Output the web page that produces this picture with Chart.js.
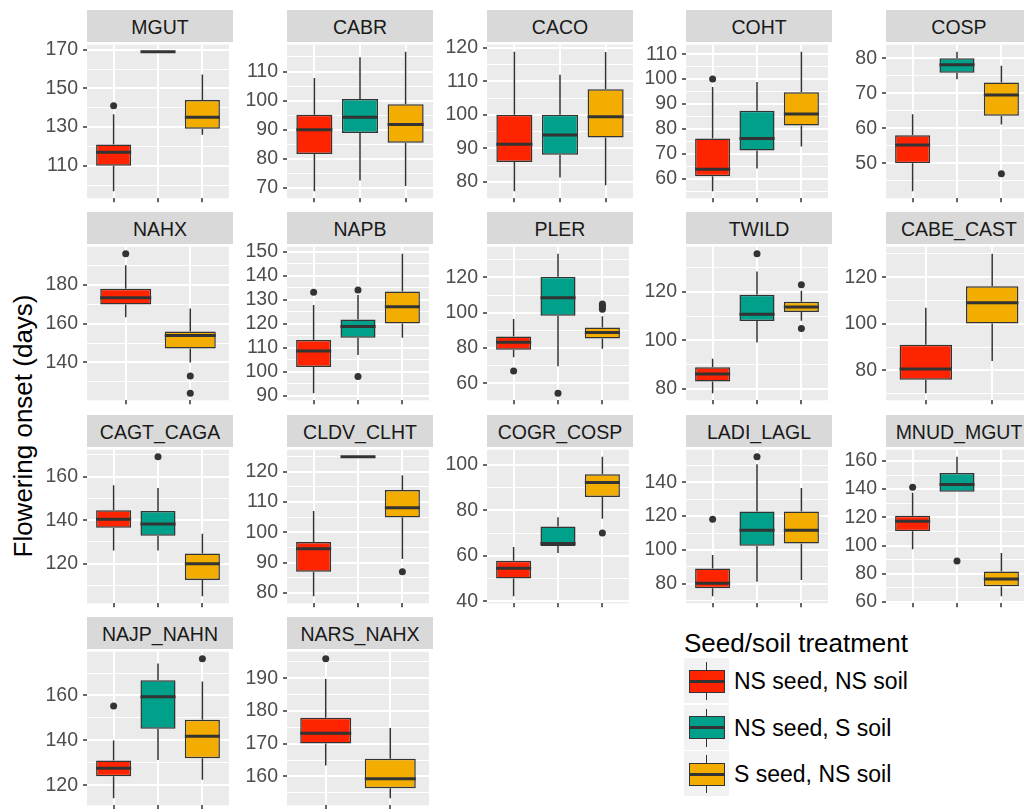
<!DOCTYPE html>
<html>
<head>
<meta charset="utf-8">
<script src="https://cdn.jsdelivr.net/npm/chart.js@4.4.1/dist/chart.umd.min.js"></script>
<style>
  body { margin: 0; background: #fff; width: 1024px; height: 809px; overflow: hidden; position: relative;
         font-family: 'Liberation Sans', Arial, sans-serif; }
  canvas { position: absolute; }
  .strip { position: absolute; background: #D9D9D9; color: #1A1A1A; font-size: 19.5px; text-align: center;
           height: 32px; line-height: 34px; white-space: nowrap; overflow: hidden; }
  .ytitle { position: absolute; left: 23px; top: 426px; font-size: 26px; color: #000; white-space: nowrap;
            transform: translate(-50%, -50%) rotate(-90deg); }
  .legend-title { position: absolute; left: 684px; top: 630px; font-size: 26px; line-height: 1; color: #000; }
  .key { position: absolute; left: 684px; width: 45px; height: 45px; background: #F2F2F2; }
  .key .whisker { position: absolute; left: 21.75px; top: 4px; width: 1.5px; height: 38px; background: #333; }
  .key .box { position: absolute; left: 4.5px; top: 11.5px; width: 36px; height: 23px; box-sizing: border-box;
              border: 1.5px solid #333; }
  .key .median { position: absolute; left: 4.5px; top: 21.5px; width: 36px; height: 3px; background: #333; }
  .legend-label { position: absolute; left: 734px; font-size: 23px; line-height: 1; color: #000; white-space: nowrap; }
</style>
</head>
<body>
<div class="ytitle">Flowering onset (days)</div>
<script>
const facetNames = ['MGUT', 'CABR', 'CACO', 'COHT', 'COSP',
  'NAHX', 'NAPB', 'PLER', 'TWILD', 'CABE_CAST',
  'CAGT_CAGA', 'CLDV_CLHT', 'COGR_COSP', 'LADI_LAGL', 'MNUD_MGUT',
  'NAJP_NAHN', 'NARS_NAHX'];
const treatments = ['NS seed, NS soil', 'NS seed, S soil', 'S seed, NS soil'];
const treatmentColors = ['#FF2400', '#00A08A', '#F2AD00'];

// which treatments are present in each facet
const facetGroups = [
  [0, 1, 2], [0, 1, 2], [0, 1, 2], [0, 1, 2], [0, 1, 2],
  [0, 2], [0, 1, 2], [0, 1, 2], [0, 1, 2], [0, 2],
  [0, 1, 2], [0, 1, 2], [0, 1, 2], [0, 1, 2], [0, 1, 2],
  [0, 1, 2], [0, 2]
];

const whiskerLow = [
  [96.8, 169, 126.1], [68.9, 72.6, 70.7], [77.2, 81.3, 79], [55, 64.2, 73], [42, 74, 61.1],
  [163.3, 140], [91, 107, 114.2], [74.8, 69.6, 79.6], [78.1, 99.1, 108.1], [70.1, 84],
  [126.1, 126.1, 105.1], [78.9, 125, 91.2], [42.2, 61.3, 76.3], [72.7, 81.3, 82.3], [97.4, 138.2, 64],
  [114.2, 131.3, 122.5], [163.3, 153.3]
];
const boxLow = [
  [110, 169, 129.2], [81.7, 88.9, 85.6], [85.9, 88.1, 93.2], [61, 71.4, 81.4], [50, 75.9, 63.6],
  [169.8, 147.2], [102, 114.2, 120.2], [79, 98.3, 85.4], [83, 108, 111.7], [75.9, 100.1],
  [136.5, 132.9, 112.6], [87, 125, 104.9], [50, 64.3, 85.9], [77.5, 102.5, 103.8], [110.2, 138.2, 71.2],
  [124, 145.2, 132], [170.1, 156.4]
];
const medians = [
  [117, 169, 135.1], [90, 94.3, 91.8], [91.2, 94, 99.4], [63.9, 76.2, 86], [55.2, 78.2, 69.5],
  [173.3, 153.9], [108.7, 118.9, 127.1], [83.2, 108.5, 88.8], [86.1, 110.8, 113.8], [80.6, 109],
  [140.4, 138.2, 120], [94.6, 125, 108.1], [54.5, 65.4, 92.2], [80.4, 111.7, 111.7], [117.2, 143.2, 76.3],
  [127.6, 159.4, 141.9], [173.2, 159.3]
];
const boxHigh = [
  [121, 169, 144], [95.2, 100.6, 98.8], [100, 100, 107.6], [76.2, 87.3, 94.7], [58, 80, 73.1],
  [178, 155.9], [113.3, 121.8, 133.5], [86.5, 120.4, 91.6], [88.9, 118.8, 115.9], [91, 116.1],
  [144.6, 144.2, 124.7], [96.8, 125, 114], [57.8, 72.9, 95.9], [89.1, 122.7, 122.7], [121.2, 151.4, 81.6],
  [131, 166.8, 149.2], [177.9, 165.4]
];
const whiskerHigh = [
  [136.6, 169, 157.2], [107.8, 114.9, 116.8], [118.8, 111.9, 118.7], [96.8, 98.8, 111], [64, 81.9, 77.9],
  [190.1, 167.8], [127.9, 132, 149.3], [96.4, 133.5, 98], [92.4, 128.4, 120.5], [106.9, 130.1],
  [156, 154.8, 133.8], [107.1, 125, 118.9], [63.9, 77, 103.6], [97.1, 150.6, 136.5], [137.4, 163, 94.8],
  [140, 174.2, 166.2], [189.8, 174.8]
];
const outliers = [
  [[141], [], []], [[], [], []], [[], [], []], [[100], [], []], [[], [], [47]],
  [[196], [133, 124.1]], [[133.2], [134.1, 98], []], [[67], [54.3], [102, 103, 104, 105]], [[], [135.8], [123, 104.9]], [[], []],
  [[], [169.1], []], [[], [], [87]], [[], [], [70]], [[118.1], [155], []], [[141.3], [89], []],
  [[155.3], [], [176.4]], [[196], []]
];
const yTicks = [
  [110, 130, 150, 170], [70, 80, 90, 100, 110], [80, 90, 100, 110, 120], [60, 70, 80, 90, 100, 110], [40, 50, 60, 70, 80],
  [140, 160, 180], [90, 100, 110, 120, 130, 140, 150], [60, 80, 100, 120], [80, 100, 120], [80, 100, 120],
  [120, 140, 160], [80, 90, 100, 110, 120], [40, 60, 80, 100], [80, 100, 120, 140], [60, 80, 100, 120, 140, 160],
  [120, 140, 160], [160, 170, 180, 190]
];

// panel layout
const colLeft = [87, 287, 487, 686, 886];
const rowTop = [42, 244, 447, 649];
const panelW = 146, panelH = 157;
const axisW = 50, padTop = 14, axisH = 8, padBottom = 8;

Chart.defaults.font.family = "'Liberation Sans', Arial, sans-serif";

// panel background, whiskers and medians
const boxplotParts = {
  id: 'boxplotParts',
  beforeDraw(chart) {
    const { ctx, chartArea: a } = chart;
    ctx.save();
    ctx.fillStyle = '#EBEBEB';
    ctx.fillRect(a.left, a.top, a.right - a.left, a.bottom - a.top);
    ctx.restore();
  },
  beforeDatasetsDraw(chart) {
    const ds = chart.data.datasets[0];
    const xs = chart.scales.x, ys = chart.scales.y;
    const ctx = chart.ctx;
    ctx.save();
    ctx.strokeStyle = '#333333';
    ctx.lineWidth = 1.5;
    ds.data.forEach((d, j) => {
      const x = xs.getPixelForValue(d.x);
      ctx.beginPath();
      ctx.moveTo(x, ys.getPixelForValue(ds.whiskerLow[j]));
      ctx.lineTo(x, ys.getPixelForValue(d.y[0]));
      ctx.moveTo(x, ys.getPixelForValue(d.y[1]));
      ctx.lineTo(x, ys.getPixelForValue(ds.whiskerHigh[j]));
      ctx.stroke();
    });
    ctx.restore();
  },
  afterDatasetsDraw(chart) {
    const ds = chart.data.datasets[0];
    const meta = chart.getDatasetMeta(0);
    const ys = chart.scales.y;
    const ctx = chart.ctx;
    ctx.save();
    ctx.strokeStyle = '#333333';
    ctx.lineWidth = 3;
    meta.data.forEach((el, j) => {
      const y = ys.getPixelForValue(ds.median[j]);
      ctx.beginPath();
      ctx.moveTo(el.x - el.width / 2, y);
      ctx.lineTo(el.x + el.width / 2, y);
      ctx.stroke();
    });
    ctx.restore();
  }
};

facetNames.forEach((name, f) => {
  const row = Math.floor(f / 5), col = f % 5;
  const left = colLeft[col], top = rowTop[row];
  const groups = facetGroups[f];

  const strip = document.createElement('div');
  strip.className = 'strip';
  strip.style.left = left + 'px';
  strip.style.top = (top - 32) + 'px';
  strip.style.width = panelW + 'px';
  strip.textContent = name;
  document.body.appendChild(strip);

  const canvas = document.createElement('canvas');
  canvas.width = axisW + panelW;
  canvas.height = padTop + panelH + axisH + padBottom;
  canvas.style.left = (left - axisW) + 'px';
  canvas.style.top = (top - padTop) + 'px';
  document.body.appendChild(canvas);

  // ggplot style limits: data range expanded by 5%
  const values = [...whiskerLow[f], ...whiskerHigh[f], ...outliers[f].flat()];
  const lo = Math.min(...values), hi = Math.max(...values);
  const yMin = lo - (hi - lo) * 0.05, yMax = hi + (hi - lo) * 0.05;

  const majors = yTicks[f];
  const step = majors[1] - majors[0];
  const allTicks = [];
  for (let v = majors[0] - step; v <= majors[majors.length - 1] + step; v += step / 2) {
    if (v >= yMin && v <= yMax) allTicks.push(v);
  }
  const isMajor = v => majors.includes(v);

  new Chart(canvas, {
    type: 'bar',
    data: {
      datasets: [{
        type: 'bar',
        data: groups.map((g, j) => ({ x: j + 1, y: [boxLow[f][j], boxHigh[f][j]] })),
        backgroundColor: groups.map(g => treatmentColors[g]),
        borderColor: '#333333',
        borderWidth: 1.5,
        borderSkipped: false,
        barPercentage: 0.79,
        categoryPercentage: 1,
        whiskerLow: whiskerLow[f],
        whiskerHigh: whiskerHigh[f],
        median: medians[f],
        order: 2
      }, {
        type: 'scatter',
        data: outliers[f].flatMap((list, j) => list.map(v => ({ x: j + 1, y: v }))),
        backgroundColor: '#333333',
        borderWidth: 0,
        pointRadius: 3.5,
        order: 1
      }]
    },
    options: {
      responsive: false,
      animation: false,
      events: [],
      layout: { padding: { top: padTop, bottom: padBottom, left: 0, right: 0 } },
      plugins: { legend: { display: false }, tooltip: { enabled: false } },
      scales: {
        x: {
          type: 'linear',
          min: 0.4,
          max: groups.length + 0.6,
          offset: false,
          afterBuildTicks: s => { s.ticks = groups.map((g, j) => ({ value: j + 1 })); },
          afterFit: s => { s.height = axisH; },
          ticks: { display: false },
          grid: { offset: false, color: '#FFFFFF', lineWidth: 2, tickColor: '#333333', tickLength: 4, tickWidth: 1.5 },
          border: { display: false }
        },
        y: {
          type: 'linear',
          min: yMin,
          max: yMax,
          beginAtZero: false,
          afterBuildTicks: s => { s.ticks = allTicks.map(v => ({ value: v })); },
          afterFit: s => { s.width = axisW; },
          ticks: {
            autoSkip: false,
            padding: 5,
            color: '#4D4D4D',
            font: { size: 19.5 },
            callback: v => isMajor(v) ? String(v) : ''
          },
          grid: {
            color: '#FFFFFF',
            lineWidth: c => (c.tick && isMajor(c.tick.value)) ? 2 : 1,
            tickColor: c => (c.tick && isMajor(c.tick.value)) ? '#333333' : 'rgba(0,0,0,0)',
            tickLength: 4,
            tickWidth: 1.5
          },
          border: { display: false }
        }
      }
    },
    plugins: [boxplotParts]
  });
});

// legend
const legendTitle = document.createElement('div');
legendTitle.className = 'legend-title';
legendTitle.textContent = 'Seed/soil treatment';
document.body.appendChild(legendTitle);

treatments.forEach((label, i) => {
  const keyTop = 658 + i * 46.7;
  const key = document.createElement('div');
  key.className = 'key';
  key.style.top = keyTop + 'px';
  key.innerHTML = '<div class="whisker"></div><div class="box" style="background:' + treatmentColors[i] +
    '"></div><div class="median"></div>';
  document.body.appendChild(key);

  const text = document.createElement('div');
  text.className = 'legend-label';
  text.style.top = (keyTop + 12) + 'px';
  text.textContent = label;
  document.body.appendChild(text);
});
</script>
</body>
</html>
